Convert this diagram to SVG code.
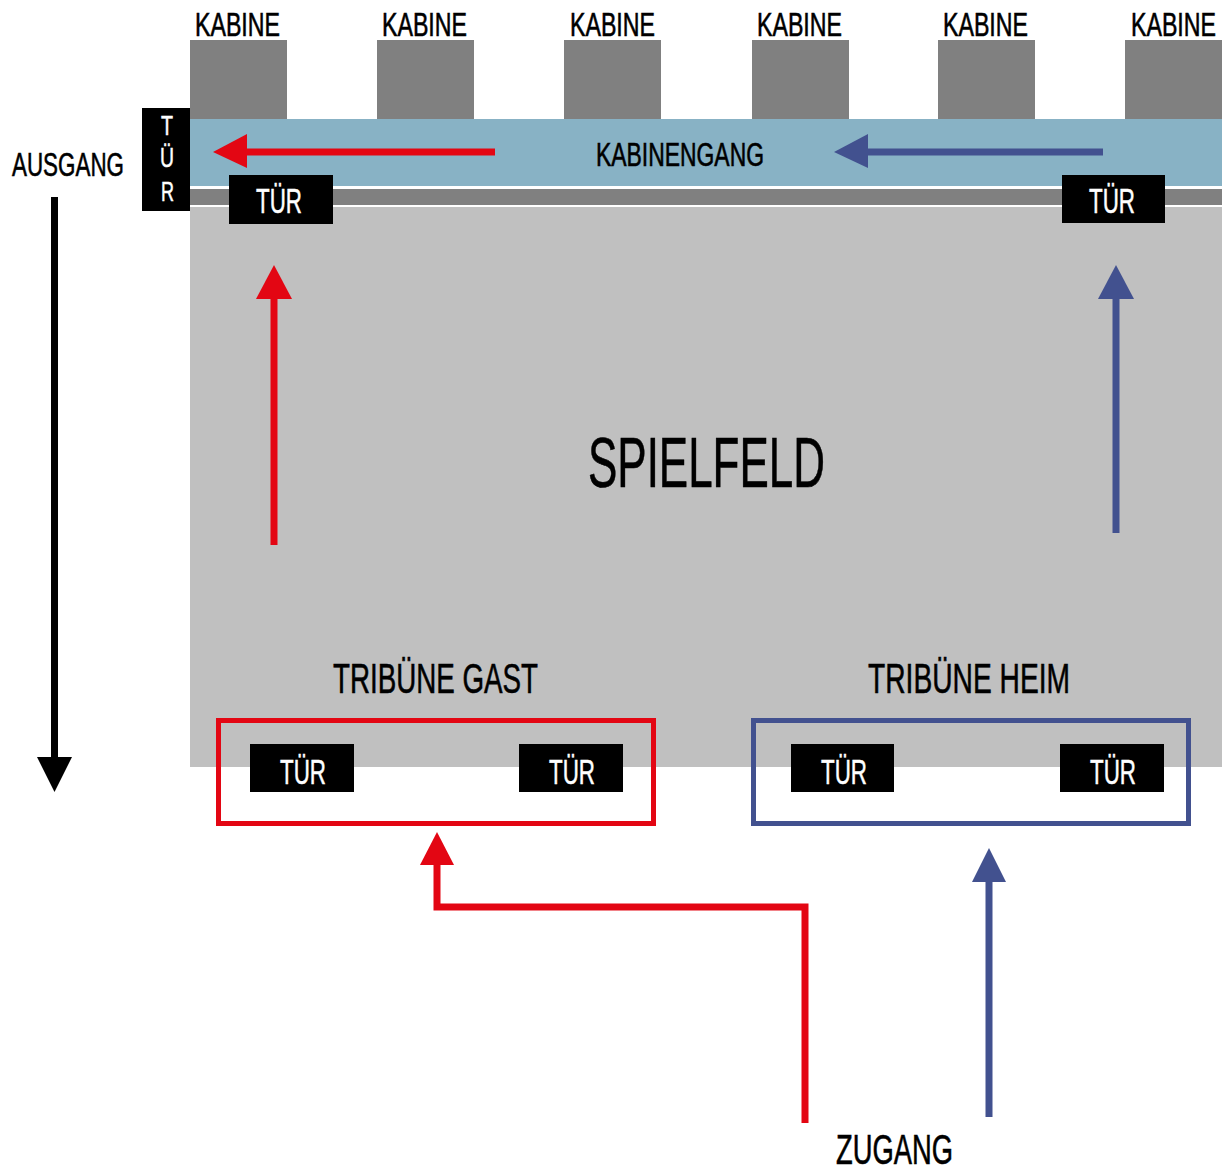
<svg xmlns="http://www.w3.org/2000/svg" width="1225" height="1169" viewBox="0 0 1225 1169">
<style>
text{font-family:"Liberation Sans Narrow","Liberation Sans",Arial,sans-serif;}
.lbl{fill:#000;stroke:#000;stroke-width:0.6;}
.w{fill:#fff;stroke:#fff;stroke-width:0.5;}
.kab{fill:#808080;}
.door{fill:#000;}
.red{stroke:#e30613;fill:none;stroke-width:7;}
.blue{stroke:#42518f;fill:none;stroke-width:7;}
.redf{fill:#e30613;}
.bluef{fill:#42518f;}
</style>
<rect width="1225" height="1169" fill="#fff"/>
<g id="field">
<rect x="190" y="207" width="1032" height="560" fill="#c0c0c0"/>
<rect x="190" y="189" width="1032" height="16" fill="#808080"/>
<text x="588" y="487" font-size="70" textLength="237" lengthAdjust="spacingAndGlyphs" class="lbl">SPIELFELD</text>
</g>
<g id="kabinengang">
<rect x="190" y="119" width="1032" height="67" fill="#88b2c5"/>
<text x="596" y="166" font-size="33" textLength="168" lengthAdjust="spacingAndGlyphs" class="lbl">KABINENGANG</text>
</g>
<g id="kabine1"><rect x="190" y="40" width="97" height="79" class="kab"/><text x="195" y="36" font-size="33" textLength="85" lengthAdjust="spacingAndGlyphs" class="lbl">KABINE</text></g>
<g id="kabine2"><rect x="377" y="40" width="97" height="79" class="kab"/><text x="382" y="36" font-size="33" textLength="85" lengthAdjust="spacingAndGlyphs" class="lbl">KABINE</text></g>
<g id="kabine3"><rect x="564" y="40" width="97" height="79" class="kab"/><text x="570" y="36" font-size="33" textLength="85" lengthAdjust="spacingAndGlyphs" class="lbl">KABINE</text></g>
<g id="kabine4"><rect x="752" y="40" width="97" height="79" class="kab"/><text x="757" y="36" font-size="33" textLength="85" lengthAdjust="spacingAndGlyphs" class="lbl">KABINE</text></g>
<g id="kabine5"><rect x="938" y="40" width="97" height="79" class="kab"/><text x="943" y="36" font-size="33" textLength="85" lengthAdjust="spacingAndGlyphs" class="lbl">KABINE</text></g>
<g id="kabine6"><rect x="1125" y="40" width="97" height="79" class="kab"/><text x="1131" y="36" font-size="33" textLength="85" lengthAdjust="spacingAndGlyphs" class="lbl">KABINE</text></g>
<g id="tuer-ausgang">
<rect x="142" y="108" width="48" height="103" class="door"/>
<text x="161" y="135" font-size="27" textLength="12" lengthAdjust="spacingAndGlyphs" class="w">T</text>
<text x="160" y="167" font-size="27" textLength="14" lengthAdjust="spacingAndGlyphs" class="w">Ü</text>
<text x="161" y="201" font-size="27" textLength="13" lengthAdjust="spacingAndGlyphs" class="w">R</text>
</g>
<g id="tuer-gang-links"><rect x="229" y="175" width="104" height="49" class="door"/><text x="256" y="213" font-size="35" textLength="46" lengthAdjust="spacingAndGlyphs" class="w">TÜR</text></g>
<g id="tuer-gang-rechts"><rect x="1062" y="175" width="103" height="48" class="door"/><text x="1089" y="213" font-size="35" textLength="46" lengthAdjust="spacingAndGlyphs" class="w">TÜR</text></g>
<g id="tribuene-gast">
<text x="333" y="693" font-size="43" textLength="205" lengthAdjust="spacingAndGlyphs" class="lbl">TRIBÜNE GAST</text>
<rect x="218.5" y="720.5" width="435" height="103" fill="none" stroke="#e30613" stroke-width="5"/>
<rect x="250" y="744" width="104" height="48" class="door"/><text x="280" y="784" font-size="35" textLength="46" lengthAdjust="spacingAndGlyphs" class="w">TÜR</text>
<rect x="519" y="744" width="104" height="48" class="door"/><text x="549" y="784" font-size="35" textLength="46" lengthAdjust="spacingAndGlyphs" class="w">TÜR</text>
</g>
<g id="tribuene-heim">
<text x="868" y="693" font-size="43" textLength="202" lengthAdjust="spacingAndGlyphs" class="lbl">TRIBÜNE HEIM</text>
<rect x="753.5" y="720.5" width="435" height="103" fill="none" stroke="#42518f" stroke-width="5"/>
<rect x="791" y="744" width="103" height="48" class="door"/><text x="821" y="784" font-size="35" textLength="46" lengthAdjust="spacingAndGlyphs" class="w">TÜR</text>
<rect x="1060" y="744" width="104" height="48" class="door"/><text x="1090" y="784" font-size="35" textLength="46" lengthAdjust="spacingAndGlyphs" class="w">TÜR</text>
</g>
<g id="ausgang">
<text x="12" y="176" font-size="34" textLength="112" lengthAdjust="spacingAndGlyphs" class="lbl">AUSGANG</text>
</g>
<g id="zugang">
<text x="836" y="1164" font-size="43" textLength="117" lengthAdjust="spacingAndGlyphs" class="lbl">ZUGANG</text>
</g>
<g id="connectors">
<line x1="495" y1="152" x2="245" y2="152" class="red"/>
<polygon points="213,152 247,134 247,168" class="redf"/>
<line x1="1103" y1="152" x2="866" y2="152" class="blue"/>
<polygon points="834,152 868,134 868,168" class="bluef"/>
<line x1="274" y1="545" x2="274" y2="297" class="red"/>
<polygon points="274,265 256,299 292,299" class="redf"/>
<line x1="1116" y1="533" x2="1116" y2="297" class="blue"/>
<polygon points="1116,265 1098,299 1134,299" class="bluef"/>
<polyline points="805,1123 805,907 437,907 437,863" class="red"/>
<polygon points="437,832 420,865 454,865" class="redf"/>
<line x1="989" y1="1117" x2="989" y2="880" class="blue"/>
<polygon points="989,848 972,882 1006,882" class="bluef"/>
<line x1="54.5" y1="197" x2="54.5" y2="760" stroke="#000" stroke-width="7"/>
<polygon points="54.5,792 37,757 72,757" fill="#000"/>
</g>
</svg>
